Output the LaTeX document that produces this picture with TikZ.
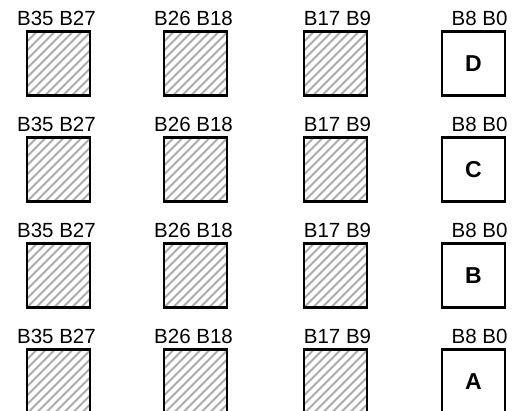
\documentclass[tikz,border=0pt]{standalone}
\usepackage{fontspec}
\setmainfont{Liberation Sans}
\usetikzlibrary{positioning}

\begin{document}
\begin{tikzpicture}[x=1pt, y=-1pt,
    cell/.style={draw, line width=2.6pt, minimum width=63pt, minimum height=64pt,
                 inner sep=0pt, fill=white},
    hatched/.style={cell, path picture={
        \foreach \k in {-72,-63,...,72}
          \draw[gray!65, line width=1.8pt]
            ([xshift=\k pt]path picture bounding box.south west) -- ++(80pt,80pt);}},
    lettered/.style={cell, font=\fontsize{23}{26}\selectfont\bfseries},
    lab/.style={inner sep=0pt, font=\fontsize{20.5}{24}\selectfont}
]
  \useasboundingbox (0,0) rectangle (514,411);
  \foreach \r/\y/\ch in {1/63.5/D, 2/169.5/C, 3/275.5/B, 4/381.5/A} {
    % hatched bytes
    \foreach \c/\x/\dx/\txt in {1/58.5/-2/B35 B27, 2/195.5/-2/B26 B18, 3/335.5/2/B17 B9} {
      \node[hatched] (cell\r\c) at (\x,\y) {};
      \node[lab, above=4pt of cell\r\c, xshift=\dx pt] (lab\r\c) {\txt};
    }
    % low byte
    \node[lettered] (cell\r4) at (473.5,\y) {\ch};
    \node[lab, above=4pt of cell\r4, xshift=6pt] (lab\r4) {B8 B0};
  }
\end{tikzpicture}
\end{document}
